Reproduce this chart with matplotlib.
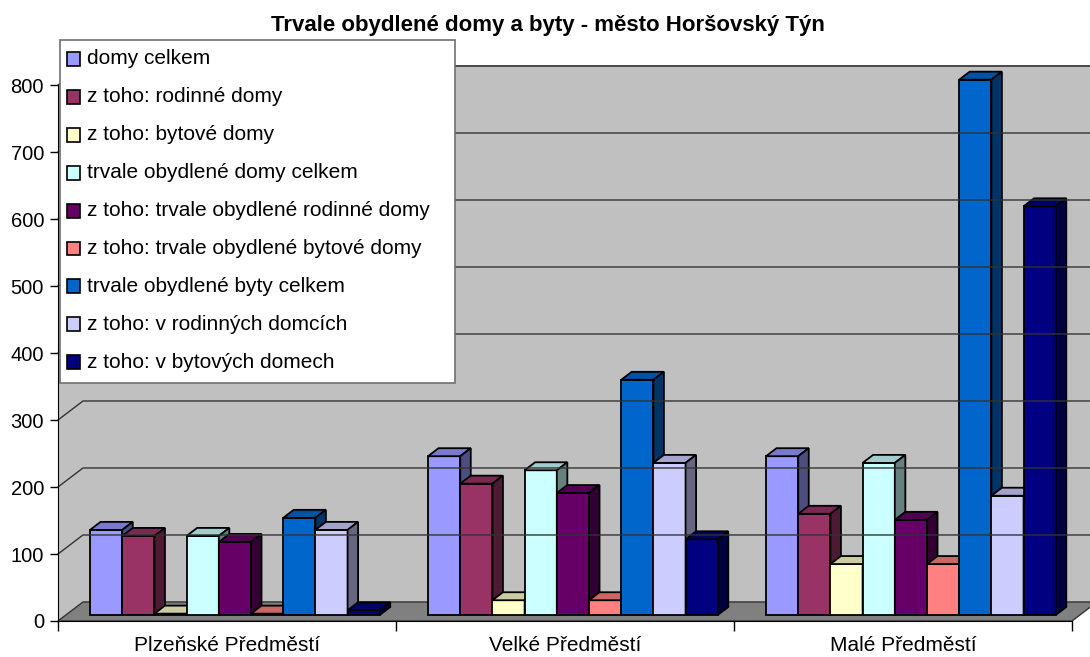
import matplotlib
matplotlib.use("Agg")
import matplotlib.pyplot as plt
from matplotlib.patches import Polygon, Rectangle

plt.rcParams["font.family"] = ["Liberation Sans", "DejaVu Sans"]

# --- data ---
categories = ["Plzeňské Předměstí", "Velké Předměstí", "Malé Předměstí"]
series_names = [
    "domy celkem",
    "z toho: rodinné domy",
    "z toho: bytové domy",
    "trvale obydlené domy celkem",
    "z toho: trvale obydlené rodinné domy",
    "z toho: trvale obydlené bytové domy",
    "trvale obydlené byty celkem",
    "z toho: v rodinných domcích",
    "z toho: v bytových domech",
]
domy_celkem = [127, 237, 237]
rodinne_domy = [118, 196, 151]
bytove_domy = [2, 22, 76]
tob_domy_celkem = [118, 216, 227]
tob_rodinne = [109, 182, 142]
tob_bytove = [2, 22, 76]
tob_byty_celkem = [145, 351, 799]
byty_v_rodinnych = [127, 227, 178]
byty_v_bytovych = [7, 113, 610]
series_values = [domy_celkem, rodinne_domy, bytove_domy, tob_domy_celkem,
                 tob_rodinne, tob_bytove, tob_byty_celkem, byty_v_rodinnych,
                 byty_v_bytovych]
colors = ["#9999FF", "#993366", "#FFFFCC", "#CCFFFF", "#660066",
          "#FF8080", "#0066CC", "#CCCCFF", "#000080"]
yticks = [0, 100, 200, 300, 400, 500, 600, 700, 800]

W, H = 1090, 657


def shade(c, k):
    r, g, b = matplotlib.colors.to_rgb(c)
    return (r * k, g * k, b * k)


fig = plt.figure(figsize=(W / 100, H / 100), dpi=100)
# front plane of the 3d box: x 58..1072 px, y 621 (0) .. 66 (back wall top)
ax = fig.add_axes([58 / W, (H - 621) / H, (1072 - 58) / W, (621 - 66) / H])
ax.set_facecolor("none")

DX = 25 / 338          # depth offset in x units
DY = 28.4              # depth offset in value units
ax.set_xlim(0, 3)
ax.set_ylim(0, 800 + DY)

# walls and floor
ax.add_patch(Polygon([(0, 0), (DX, DY), (DX, 800 + DY), (0, 800)],
                     closed=True, facecolor="#C0C0C0", edgecolor="none", clip_on=False))
ax.add_patch(Polygon([(DX, DY), (3.2, DY), (3.2, 800 + DY), (DX, 800 + DY)],
                     closed=True, facecolor="#C0C0C0", edgecolor="none", clip_on=False))
ax.plot([DX, 3.2], [800 + DY, 800 + DY], color="#707070", lw=1.2, clip_on=False)
for v in yticks[1:]:
    ax.plot([0, DX, 3.2], [v, v + DY, v + DY], color="#333333", lw=1.0, clip_on=False)
ax.add_patch(Polygon([(0, 0), (3, 0), (3 + DX, DY), (DX, DY)],
                     closed=True, facecolor="#808080", edgecolor="#333333", lw=1.0,
                     clip_on=False))

# 3d bars
n = len(series_values)
w = 1 / (n + 1.5)
f0, f1 = 0.316, 0.737
base = f0 * DY
dx, dy = (f1 - f0) * DX, (f1 - f0) * DY
for c in range(len(categories)):
    for i, vals in enumerate(series_values):
        v = vals[c]
        x0 = c + f0 * DX + (1 - n * w) / 2 + i * w
        ax.bar(x0, v, width=w, bottom=base, align="edge", color=colors[i],
               edgecolor="black", linewidth=1.3, clip_on=False)
        top = v + base
        ax.add_patch(Polygon([(x0, top), (x0 + w, top), (x0 + w + dx, top + dy),
                              (x0 + dx, top + dy)], closed=True,
                             facecolor=shade(colors[i], 0.8), edgecolor="black",
                             lw=1.3, clip_on=False))
        ax.add_patch(Polygon([(x0 + w, base), (x0 + w + dx, base + dy),
                              (x0 + w + dx, top + dy), (x0 + w, top)], closed=True,
                             facecolor=shade(colors[i], 0.5), edgecolor="black",
                             lw=1.3, clip_on=False))

# axes
for s in ["top", "right"]:
    ax.spines[s].set_visible(False)
ax.spines["left"].set_bounds(0, 800)
ax.spines["left"].set_color("black")
ax.spines["bottom"].set_color("black")
ax.set_yticks(yticks)
ax.tick_params(axis="y", length=6, width=1, pad=4, labelsize=14.5, direction="out")
ax.set_xticks([0, 1, 2, 3])
ax.set_xticklabels([])
ax.tick_params(axis="x", which="major", length=7, width=1, direction="out")
ax.set_xticks([0.5, 1.5, 2.5], minor=True)
ax.set_xticklabels(categories, minor=True)
ax.tick_params(axis="x", which="minor", length=0, pad=11, labelsize=15)

# legend box (drawn in pixel positions)
def fx(px):
    return px / W


def fy(py):
    return 1 - py / H


fig.patches.append(Rectangle((fx(60), fy(383)), fx(455) - fx(60), fy(40) - fy(383),
                             transform=fig.transFigure, facecolor="white",
                             edgecolor="#707070", lw=1.2, zorder=10))
for i, name in enumerate(series_names):
    yc = 59 + i * 37.9
    fig.text(fx(87), fy(yc), name, fontsize=15, va="center", ha="left", zorder=12)
    fig.patches.append(Rectangle((fx(67), fy(yc + 7)), fx(80) - fx(67), fy(yc - 7) - fy(yc + 7),
                                 transform=fig.transFigure, facecolor=colors[i],
                                 edgecolor="black", lw=1.2, zorder=11))

fig.text(fx(548), fy(26), "Trvale obydlené domy a byty - město Horšovský Týn",
         fontsize=16, fontweight="bold", ha="center", va="center")

fig.savefig("out.png", dpi=100)
